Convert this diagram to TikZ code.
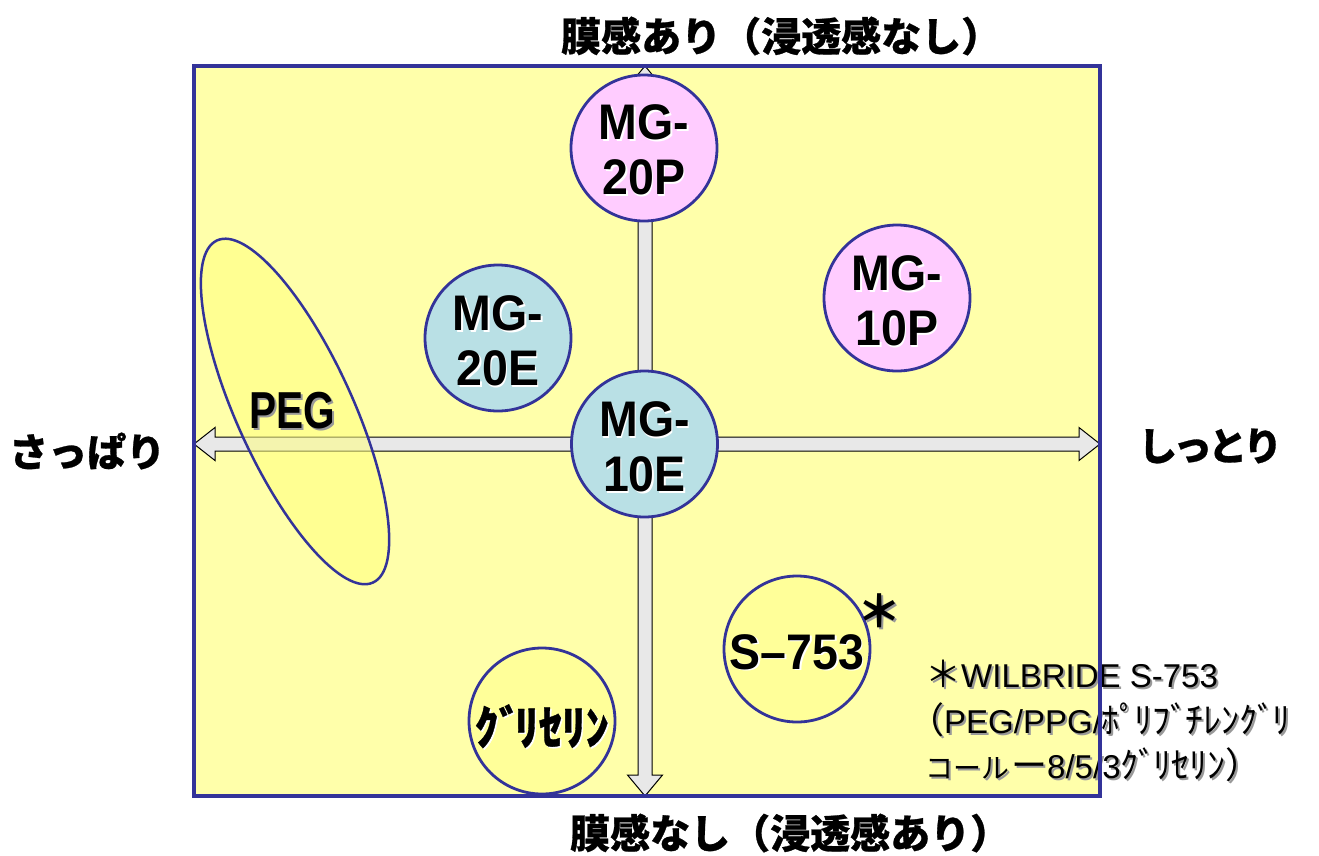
\documentclass[tikz,border=0pt]{standalone}
\usepackage{fontspec}
\usetikzlibrary{calc}
\newfontfamily\jp{Noto Sans CJK JP}
\newfontfamily\jph{Noto Sans CJK JP}[BoldFeatures={FakeBold=0.7}]
\newfontfamily\lat{Liberation Sans}
\newfontfamily\circfont{Liberation Sans}[FakeStretch=0.93]
\newfontfamily\pegfont{Liberation Sans}[FakeStretch=0.78]
\definecolor{frameblue}{HTML}{333399}
\definecolor{bgyellow}{HTML}{FFFFAA}
\definecolor{cyellow}{HTML}{FFFF99}
\definecolor{cpink}{HTML}{FFCCFF}
\definecolor{cblue}{HTML}{B9E0E5}
\definecolor{arrowfill}{HTML}{E8E8E8}
\definecolor{ellfill}{HTML}{FFFF80}
\newcommand\shtext[3]{\leavevmode\rlap{\kern#2\raisebox{-#2}{\textcolor{#1}{#3}}}#3}
\newcommand\njp{\jp\fontsize{36}{40}\selectfont}
\newcommand\nlat{\lat\fontsize{33}{40}\selectfont}
\begin{document}
\begin{tikzpicture}[x=1pt,y=-1pt,
  bubble/.style={circle, draw=frameblue, line width=2.8pt, minimum size=146pt, inner sep=0pt},
  ctext/.style={inner sep=0pt, align=center, font=\circfont\bfseries\fontsize{50}{55}\selectfont},
  blockarrow/.style={draw=black, line width=1pt, fill=arrowfill, line join=miter},
  title/.style={inner sep=0pt, anchor=west, font=\jph\bfseries\fontsize{40}{44}\selectfont},
  note/.style={inner sep=0pt, anchor=base west}]
\useasboundingbox (0,0) rectangle (1319,855);
\fill[white] (0,0) rectangle (1319,855);
\coordinate (fnw) at (194,66);
\coordinate (fse) at (1100,796);
\fill[bgyellow] (fnw) rectangle (fse);
% axes
\coordinate (hl) at (194,444);
\coordinate (hr) at (1100,444);
\draw[blockarrow] (hl) -- ($(hl)+(21,-16.5)$) -- ($(hl)+(21,-7)$) -- ($(hr)+(-21,-7)$) -- ($(hr)+(-21,-16.5)$) -- (hr) -- ($(hr)+(-21,16.5)$) -- ($(hr)+(-21,7)$) -- ($(hl)+(21,7)$) -- ($(hl)+(21,16.5)$) -- cycle;
\coordinate (vt) at (645,66);
\coordinate (vb) at (645,796);
\draw[blockarrow] (vt) -- ($(vt)+(17.5,21)$) -- ($(vt)+(7,21)$) -- ($(vb)+(7,-21)$) -- ($(vb)+(17.5,-21)$) -- (vb) -- ($(vb)+(-17.5,-21)$) -- ($(vb)+(-7,-21)$) -- ($(vt)+(-7,21)$) -- ($(vt)+(-17.5,21)$) -- cycle;
% PEG ellipse
\coordinate (peg) at (295,411.5);
\draw[frameblue, line width=2.5pt, fill=ellfill, fill opacity=0.55, rotate around={-65.5:(peg)}] (peg) ellipse [x radius=188pt, y radius=58pt];
% bubbles
\node[bubble, fill=cpink] (m20p) at (644,148) {};
\node[bubble, fill=cpink] (m10p) at (897,298) {};
\node[bubble, fill=cblue] (m20e) at (498,338) {};
\node[bubble, fill=cblue] (m10e) at (644.5,444) {};
\node[bubble, fill=cyellow] (s753) at (797,649) {};
\node[bubble, fill=cyellow] (gly) at (542,721) {};
\node[ctext] (m20pt) at ([yshift=-3pt]m20p.center) {\shtext{white}{1.5pt}{MG-}\\\shtext{white}{1.5pt}{20P}};
\node[ctext] (m10pt) at ([yshift=-4pt]m10p.center) {\shtext{white}{1.5pt}{MG-}\\\shtext{white}{1.5pt}{10P}};
\node[ctext] (m20et) at ([yshift=-4pt]m20e.center) {\shtext{white}{1.5pt}{MG-}\\\shtext{white}{1.5pt}{20E}};
\node[ctext] (m10et) at ([yshift=-4pt]m10e.center) {\shtext{white}{1.5pt}{MG-}\\\shtext{white}{1.5pt}{10E}};
\node[ctext] (s753t) at ([yshift=-4pt]s753.center) {\shtext{white}{1.5pt}{S–753}};
\node[inner sep=0pt, font=\jph\bfseries\fontsize{47}{50}\selectfont] (glyt) at ([yshift=-6pt]gly.center) {\shtext{white}{1.5pt}{ｸﾞ\kern-7ptﾘｾﾘﾝ}};
\node[inner sep=0pt, font=\pegfont\bfseries\fontsize{52}{55}\selectfont] (pegt) at (292,411.5) {\shtext{black!40}{2pt}{PEG}};
\node[inner sep=0pt, font=\jp\bfseries\fontsize{44}{48}\selectfont] (ast) at (879,612) {\shtext{black!40}{2pt}{＊}};
% axis titles
\node[title] (ttop) at (561,36) {膜感あり（浸透感なし）};
\node[title] (tbot) at (570,833) {膜感なし（浸透感あり）};
\node[title, font=\jph\bfseries\fontsize{39}{44}\selectfont] (tleft) at (9,451) {さっぱり};
\node[title, font=\jph\bfseries\fontsize{39}{44}\selectfont] (tright) at (1138,446) {し\kern-4ptっ\kern-4ptと\kern-4ptり};
% note
\node[note] (ann1) at (925,687) {\shtext{black!40}{2pt}{{\njp ＊}{\nlat WILBRIDE S-753}}};
\node[note] (ann2) at (908,733) {\shtext{black!40}{2pt}{{\njp （}{\nlat PEG/PPG/}{\njp ﾎﾟ\kern-3ptﾘﾌﾞ\kern-3ptﾁﾚﾝｸﾞ\kern-3ptﾘ}}};
\node[note] (ann3) at (925,778) {\shtext{black!40}{2pt}{{\jp\fontsize{28}{40}\selectfont コール}{\njp\kern2ptー}{\nlat 8/5/3}{\njp ｸﾞ\kern-3ptﾘｾﾘﾝ）}}};
% frame
\draw[frameblue, line width=3.5pt] (fnw) rectangle (fse);
\end{tikzpicture}
\end{document}
